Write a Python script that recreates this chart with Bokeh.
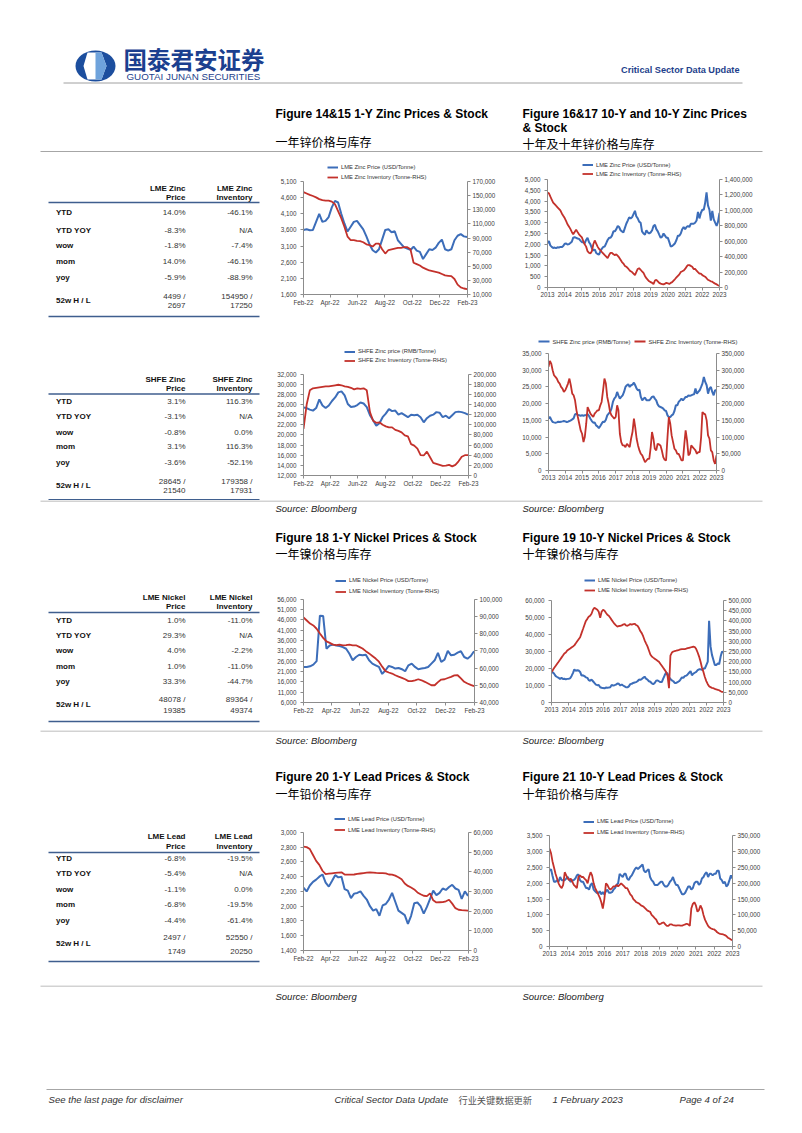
import pandas as pd
from bokeh.plotting import figure
from bokeh.models import (Range1d, LinearAxis, FixedTicker, NumeralTickFormatter,
                          DatetimeTickFormatter, Legend, LegendItem)
from bokeh.layouts import column, row
from bokeh.embed import file_html
from bokeh.resources import INLINE
from bokeh.core.properties import value

# ---------------------------------------------------------------- data
week_dates = pd.date_range("2022-02-01", periods=53, freq="7D")
month_dates = pd.date_range("2013-01-01", periods=121, freq="MS")

one_y_ticks = ["2022-02-01", "2022-04-01", "2022-06-01", "2022-08-01",
               "2022-10-01", "2022-12-01", "2023-02-01"]
ten_y_ticks = ["2013-01-01", "2014-01-01", "2015-01-01", "2016-01-01", "2017-01-01",
               "2018-01-01", "2019-01-01", "2020-01-01", "2021-01-01", "2022-01-01",
               "2023-01-01"]

# Figure 14&15 : LME zinc 1-Y
lme_zinc_1y_price = [3600, 3620, 3590, 3600, 3850, 4100, 3850, 3880, 4000, 4300,
                     4500, 4450, 4100, 3800, 3550, 3700, 3850, 3880, 3750, 3620,
                     3400, 3150, 2970, 2900, 3000, 3300, 3600, 3620, 3530, 3560,
                     3280, 3170, 3060, 3020, 2980, 3080, 2960, 2920, 2700, 2850,
                     3000, 2980, 3050, 3200, 3300, 3000, 2960, 3000, 3280, 3420,
                     3470, 3400, 3380]
lme_zinc_1y_inv = [155000, 153000, 151000, 149500, 147500, 145000, 143500, 143000, 143000, 141500,
                   138000, 128000, 118000, 106000, 92000, 87000, 87000, 86000, 85500, 84000,
                   81000, 80000, 78000, 82000, 82000, 74000, 68000, 73000, 74000, 75000,
                   76000, 76000, 77000, 77000, 74000, 55000, 53000, 51000, 48000, 46000,
                   44000, 43000, 42000, 41000, 39000, 37000, 36500, 36000, 32000, 24000,
                   20000, 18500, 17500]
# SHFE zinc 1-Y
shfe_zinc_1y_price = [25400, 25300, 25000, 24800, 25300, 27000, 25800, 25300, 25800, 26700,
                      27400, 28400, 28600, 27800, 26100, 25500, 25600, 25900, 26400, 26200,
                      25500, 23900, 22900, 21800, 22300, 23500, 24200, 25100, 24700, 24800,
                      24000, 24300, 23900, 23500, 24000, 23900, 24000, 23500, 22500, 23300,
                      23800, 24000, 24500, 24400, 23500, 23800, 23300, 23900, 24500, 24600,
                      24500, 24300, 24000]
shfe_zinc_1y_inv = [92000, 140000, 168000, 172000, 173000, 174000, 175000, 176000, 176000, 177000,
                    178000, 179000, 178000, 176000, 175000, 173000, 170000, 172000, 171000, 172000,
                    168000, 125000, 108000, 104000, 105000, 100000, 97000, 95000, 95000, 90000,
                    88000, 85000, 79000, 77000, 62000, 59000, 53000, 40000, 39500, 47000,
                    36000, 25000, 23000, 21000, 19000, 19500, 21000, 18000, 21000, 28000,
                    37000, 40000, 40000]
# LME nickel 1-Y
lme_nickel_1y_price = [23200, 23200, 23500, 24300, 26000, 48000, 47800, 32000, 33600, 34000,
                       33500, 33300, 32800, 32000, 29600, 26400, 28000, 29100, 28800, 29100,
                       26400, 24800, 24000, 23200, 19800, 21600, 23700, 23200, 22400, 22700,
                       22100, 21100, 24000, 24800, 23200, 22100, 22400, 22700, 23200, 24800,
                       26400, 30000, 25600, 26700, 31000, 28800, 29100, 30100, 30800, 28000,
                       27200, 28500, 30800]
lme_nickel_1y_inv = [89400, 87600, 85800, 84700, 82800, 80000, 77500, 75500, 74600, 73600,
                     73300, 73600, 73200, 73300, 73600, 73200, 73200, 72300, 71300, 69800,
                     68500, 67000, 65500, 63700, 60800, 58200, 57400, 56800, 55800, 55000,
                     54300, 53500, 52400, 52400, 52900, 53500, 52900, 52000, 51000, 50000,
                     50000, 51800, 53300, 53500, 54200, 54900, 55700, 55800, 54000, 52000,
                     51000, 50200, 49500]
# LME lead 1-Y
lme_lead_1y_price = [2250, 2200, 2280, 2330, 2360, 2400, 2430, 2320, 2265, 2340,
                     2420, 2390, 2400, 2230, 2210, 2110, 2170, 2180, 2200, 2140,
                     2090, 2000, 1940, 1960, 1870, 2010, 2030, 2090, 2180, 2060,
                     1940, 1910, 1880, 1760, 1870, 2040, 2050, 2000, 1900, 1990,
                     2100, 2210, 2150, 2180, 2240, 2220, 2260, 2290, 2240, 2220,
                     2100, 2200, 2140]
lme_lead_1y_inv = [52800, 52500, 51500, 48500, 45500, 43500, 40500, 38800, 39000, 39200,
                   39400, 39600, 39700, 38600, 38500, 38500, 38600, 38900, 39100, 39300,
                   39500, 39700, 39600, 39400, 39300, 39300, 39200, 38600, 38500, 38000,
                   37200, 36200, 34000, 32800, 32000, 31000, 29500, 28600, 27800, 27600,
                   29000, 25500, 24400, 24500, 24600, 25000, 25800, 23800, 21500, 20700,
                   20500, 20400, 20300]

# 10-Y monthly series (Jan-2013 .. Jan-2023)
lme_zinc_10y_price = [
    2050, 2150, 1950, 1880, 1830, 1850, 1820, 1860, 1850, 1880, 1870, 1920,
    2030, 2040, 1990, 2010, 2060, 2120, 2310, 2330, 2300, 2270, 2250, 2170,
    2100, 2100, 2040, 2200, 2300, 2100, 2000, 1820, 1720, 1760, 1600, 1550,
    1520, 1700, 1800, 1880, 1900, 2050, 2200, 2300, 2300, 2400, 2600, 2600,
    2700, 2850, 2800, 2650, 2600, 2550, 2750, 2950, 3100, 3250, 3200, 3250,
    3400, 3550, 3300, 3200, 3050, 3000, 2600, 2500, 2450, 2650, 2550, 2500,
    2550, 2650, 2850, 2900, 2700, 2600, 2450, 2300, 2350, 2500, 2400, 2300,
    2300, 2100, 1900, 1920, 1980, 2050, 2200, 2400, 2400, 2500, 2700, 2800,
    2700, 2800, 2850, 2800, 2950, 2950, 2950, 3000, 3100, 3500, 3200, 3450,
    3600, 3600, 3900, 4400, 3800, 3600, 3100, 3550, 3150, 3000, 2850, 3050,
    3450]
lme_zinc_10y_inv = [
    1230000, 1220000, 1180000, 1140000, 1100000, 1080000, 1060000, 1040000, 1020000, 1000000, 960000, 930000,
    900000, 860000, 820000, 790000, 760000, 720000, 690000, 720000, 750000, 720000, 690000, 670000,
    650000, 600000, 560000, 530000, 470000, 450000, 440000, 470000, 560000, 610000, 570000, 530000,
    500000, 480000, 460000, 440000, 420000, 400000, 380000, 420000, 450000, 450000, 430000, 420000,
    430000, 410000, 390000, 360000, 330000, 310000, 280000, 270000, 250000, 230000, 210000, 200000,
    180000, 160000, 200000, 240000, 250000, 230000, 210000, 190000, 150000, 120000, 100000, 80000,
    70000, 60000, 45000, 90000, 100000, 80000, 60000, 50000, 45000, 40000, 50000, 60000,
    55000, 45000, 60000, 70000, 90000, 110000, 130000, 150000, 170000, 200000, 210000, 220000,
    240000, 270000, 290000, 290000, 280000, 270000, 240000, 240000, 220000, 200000, 180000, 180000,
    160000, 150000, 140000, 120000, 100000, 90000, 80000, 75000, 60000, 50000, 40000, 30000,
    20000]
shfe_zinc_10y_price = [
    15500, 16000, 15200, 14500, 14400, 14300, 14400, 14600, 14500, 14600, 14700, 14800,
    14700, 14500, 14600, 14800, 15000, 15300, 15600, 16800, 17000, 16600, 16500, 16400,
    16500, 16400, 16500, 16600, 16900, 16300, 15500, 14800, 14300, 14400, 13500, 13200,
    12700, 13300, 14000, 14600, 14500, 15200, 16500, 17000, 17500, 18500, 20500, 21500,
    22000, 23500, 22500, 21500, 22000, 22500, 23500, 25000, 25500, 25800, 25000, 25500,
    25700, 26300, 25500, 24500, 24000, 24200, 22000, 21000, 21500, 21800, 21000, 21000,
    21000, 21500, 22000, 22200, 21500, 21000, 19800, 19200, 19000, 18800, 18500, 18000,
    17800, 16500, 16000, 16000, 16500, 16800, 17800, 19500, 19500, 20500, 21000, 21500,
    21000, 21500, 22000, 22000, 22500, 22300, 22500, 22700, 22800, 24500, 23000, 23500,
    24000, 25000, 26000, 28000, 26500, 25500, 23000, 24500, 25000, 23500, 22500, 24000,
    24000]
shfe_zinc_10y_inv = [
    310000, 328000, 320000, 300000, 285000, 280000, 275000, 265000, 260000, 250000, 245000, 235000,
    240000, 250000, 260000, 275000, 255000, 230000, 225000, 210000, 180000, 160000, 140000, 120000,
    110000, 85000, 100000, 140000, 190000, 180000, 170000, 165000, 160000, 170000, 175000, 180000,
    180000, 195000, 205000, 240000, 275000, 260000, 220000, 200000, 175000, 165000, 160000, 155000,
    160000, 195000, 180000, 110000, 85000, 75000, 75000, 70000, 80000, 75000, 70000, 95000,
    115000, 155000, 130000, 95000, 75000, 60000, 50000, 45000, 35000, 25000, 30000, 35000,
    35000, 70000, 115000, 95000, 65000, 60000, 80000, 78000, 75000, 60000, 40000, 32000,
    30000, 100000, 160000, 140000, 105000, 85000, 65000, 60000, 50000, 50000, 40000, 30000,
    30000, 80000, 120000, 90000, 45000, 50000, 75000, 70000, 65000, 60000, 50000, 55000,
    55000, 100000, 175000, 170000, 168000, 150000, 105000, 95000, 60000, 55000, 30000, 20000,
    45000]
lme_nickel_10y_price = [
    17500, 17800, 16800, 15500, 15000, 14500, 13800, 14500, 13800, 14000, 13600, 13900,
    14000, 14200, 15500, 17300, 19500, 18600, 19000, 18800, 18000, 15800, 16000, 15500,
    14800, 14500, 13200, 12800, 13500, 12500, 11500, 10500, 10200, 10300, 9000, 8700,
    8500, 8300, 8800, 8700, 8800, 9000, 10300, 10000, 10200, 10500, 11200, 11000,
    10000, 10600, 10000, 9500, 9000, 8900, 9500, 10800, 11000, 11500, 11800, 12000,
    12500, 13500, 13300, 13800, 14500, 15200, 14000, 13500, 12500, 12200, 11200, 10800,
    11500, 12800, 13000, 12500, 12000, 12000, 14000, 16000, 17600, 17000, 15000, 13800,
    13000, 12500, 11500, 11500, 12000, 12500, 13500, 14800, 14500, 15500, 15800, 16500,
    17500, 18500, 16000, 17000, 17500, 18000, 19000, 19500, 19500, 19200, 20000, 20000,
    22000, 24000, 48000, 33000, 28000, 25000, 22000, 22000, 23000, 22500, 27000, 30000,
    29500]
lme_nickel_10y_inv = [
    150000, 160000, 170000, 180000, 190000, 200000, 210000, 220000, 230000, 240000, 245000, 255000,
    260000, 265000, 270000, 275000, 280000, 290000, 300000, 310000, 320000, 340000, 360000, 380000,
    400000, 410000, 420000, 425000, 435000, 455000, 465000, 460000, 455000, 445000, 415000, 445000,
    455000, 450000, 440000, 430000, 425000, 415000, 405000, 395000, 385000, 378000, 372000, 375000,
    376000, 378000, 382000, 385000, 378000, 376000, 380000, 385000, 382000, 384000, 386000, 380000,
    376000, 365000, 350000, 340000, 325000, 305000, 290000, 275000, 255000, 235000, 225000, 220000,
    215000, 210000, 205000, 200000, 190000, 180000, 170000, 160000, 150000, 130000, 70000, 230000,
    245000, 250000, 252000, 254000, 256000, 258000, 260000, 262000, 262000, 262000, 264000, 266000,
    268000, 270000, 272000, 274000, 272000, 262000, 245000, 225000, 200000, 170000, 150000, 125000,
    105000, 90000, 80000, 75000, 72000, 70000, 67000, 64000, 62000, 60000, 55000, 52000,
    52000]
lme_lead_10y_price = [
    2400, 2450, 2250, 2050, 2050, 2100, 2050, 2200, 2100, 2100, 2100, 2150,
    2200, 2100, 2050, 2100, 2100, 2150, 2250, 2280, 2100, 2050, 2050, 1950,
    1850, 1850, 1800, 1950, 2000, 1800, 1750, 1700, 1680, 1750, 1650, 1720,
    1650, 1750, 1800, 1700, 1700, 1720, 1800, 1850, 1950, 2000, 2300, 2250,
    2200, 2300, 2300, 2150, 2100, 2200, 2250, 2350, 2450, 2500, 2450, 2500,
    2550, 2600, 2400, 2350, 2400, 2450, 2200, 2100, 2050, 1950, 1950, 1950,
    2000, 2050, 2050, 1950, 1900, 1900, 1950, 2050, 2100, 2200, 2050, 1950,
    1950, 1850, 1750, 1650, 1650, 1700, 1800, 1900, 1900, 1800, 1850, 2000,
    2050, 2050, 1950, 2000, 2150, 2200, 2300, 2350, 2200, 2300, 2300, 2250,
    2300, 2300, 2400, 2400, 2150, 2100, 2000, 2050, 1900, 1950, 2100, 2250,
    2150]
lme_lead_10y_inv = [
    310000, 295000, 270000, 250000, 230000, 215000, 200000, 190000, 185000, 195000, 235000, 225000,
    215000, 210000, 215000, 205000, 195000, 190000, 185000, 220000, 225000, 220000, 220000, 215000,
    210000, 200000, 220000, 235000, 225000, 200000, 185000, 175000, 165000, 155000, 140000, 120000,
    150000, 200000, 195000, 185000, 180000, 185000, 190000, 190000, 195000, 190000, 195000, 200000,
    195000, 190000, 185000, 185000, 175000, 165000, 160000, 150000, 145000, 140000, 138000, 135000,
    130000, 128000, 125000, 120000, 115000, 112000, 110000, 100000, 95000, 90000, 85000, 75000,
    70000, 72000, 75000, 76000, 70000, 65000, 65000, 70000, 70000, 68000, 67000, 66000,
    67000, 67000, 66000, 66000, 68000, 70000, 72000, 70000, 65000, 120000, 135000, 140000,
    130000, 110000, 115000, 130000, 120000, 100000, 85000, 75000, 65000, 60000, 57000, 55000,
    54000, 50000, 45000, 42000, 40000, 39000, 38000, 36000, 33000, 28000, 25000, 22000,
    20000]

# axis ticks
zinc1_left = [1600, 2100, 2600, 3100, 3600, 4100, 4600, 5100]
zinc1_right = [10000, 30000, 50000, 70000, 90000, 110000, 130000, 150000, 170000]
zinc10_left = [0, 500, 1000, 1500, 2000, 2500, 3000, 3500, 4000, 4500, 5000]
zinc10_right = [0, 200000, 400000, 600000, 800000, 1000000, 1200000, 1400000]
shfe1_left = [12000, 14000, 16000, 18000, 20000, 22000, 24000, 26000, 28000, 30000, 32000]
shfe1_right = [0, 20000, 40000, 60000, 80000, 100000, 120000, 140000, 160000, 180000, 200000]
shfe10_left = [0, 5000, 10000, 15000, 20000, 25000, 30000, 35000]
shfe10_right = [0, 50000, 100000, 150000, 200000, 250000, 300000, 350000]
nickel1_left = [6000, 11000, 16000, 21000, 26000, 31000, 36000, 41000, 46000, 51000, 56000]
nickel1_right = [40000, 50000, 60000, 70000, 80000, 90000, 100000]
nickel10_left = [0, 10000, 20000, 30000, 40000, 50000, 60000]
nickel10_right = [0, 50000, 100000, 150000, 200000, 250000, 300000, 350000, 400000, 450000, 500000]
lead1_left = [1400, 1600, 1800, 2000, 2200, 2400, 2600, 2800, 3000]
lead1_right = [0, 10000, 20000, 30000, 40000, 50000, 60000]
lead10_left = [0, 500, 1000, 1500, 2000, 2500, 3000, 3500]
lead10_right = [0, 50000, 100000, 150000, 200000, 250000, 300000, 350000]

# tables
row_labels = ["YTD", "YTD YOY", "wow", "mom", "yoy"]
hl_label = "52w H / L"
t1_head = ["LME Zinc", "Price", "LME Zinc", "Inventory"]
t1_price = ["14.0%", "-8.3%", "-1.8%", "14.0%", "-5.9%"]
t1_inv = ["-46.1%", "N/A", "-7.4%", "-46.1%", "-88.9%"]
t1_hl = ["4499 /", "2697", "154950 /", "17250"]
t2_head = ["SHFE Zinc", "Price", "SHFE Zinc", "Inventory"]
t2_price = ["3.1%", "-3.1%", "-0.8%", "3.1%", "-3.6%"]
t2_inv = ["116.3%", "N/A", "0.0%", "116.3%", "-52.1%"]
t2_hl = ["28645 /", "21540", "179358 /", "17931"]
t3_head = ["LME Nickel", "Price", "LME Nickel", "Inventory"]
t3_price = ["1.0%", "29.3%", "4.0%", "1.0%", "33.3%"]
t3_inv = ["-11.0%", "N/A", "-2.2%", "-11.0%", "-44.7%"]
t3_hl = ["48078 /", "19385", "89364 /", "49374"]
t4_head = ["LME Lead", "Price", "LME Lead", "Inventory"]
t4_price = ["-6.8%", "-5.4%", "-1.1%", "-6.8%", "-4.4%"]
t4_inv = ["-19.5%", "N/A", "0.0%", "-19.5%", "-61.4%"]
t4_hl = ["2497 /", "1749", "52550 /", "20250"]

# ---------------------------------------------------------------- style
BLUE = "#3C6DB9"
RED = "#C3312B"
AX = "#8C8C8C"
LAB = "#404040"
NAVY = "#1E3F8C"
FONT = "Liberation Sans"
CJK = "Noto Sans CJK SC"
LEG_SIZE = "5.8px"
FMT_KEYS = ["microseconds", "milliseconds", "seconds", "minsec", "minutes",
            "hourmin", "hours", "days", "months", "years"]


def ms(d):
    return pd.Timestamp(d).value // 10**6


def no_align(p):
    try:
        p.frame_align = False
    except Exception:
        pass


def chart(geo, dates, price, inv, xr, xticks, xfmt, lticks, rticks, labels, leg=None):
    # geo: figure x0, y0, width, height, frame left, frame right, axis top, axis bottom
    x0, y0, w, h, fl, fr, at, ab = geo
    if leg is not None:
        lx, row1, rh = leg
        leg_top = row1 - rh / 2.0
        frame_top = min(at, leg_top - 2)
    else:
        frame_top = at
    ext = (at - frame_top) / float(ab - at)
    lspan = lticks[-1] - lticks[0]
    rspan = rticks[-1] - rticks[0]
    p = figure(width=w, height=h, x_axis_type="datetime", title=None,
               x_range=Range1d(pd.Timestamp(xr[0]), pd.Timestamp(xr[1])),
               y_range=Range1d(lticks[0], lticks[-1] + ext * lspan),
               min_border_left=fl - x0, min_border_right=x0 + w - fr,
               min_border_top=int(round(frame_top - y0)), min_border_bottom=y0 + h - ab,
               output_backend="svg", toolbar_location=None)
    no_align(p)
    p.extra_y_ranges = {"inv": Range1d(rticks[0], rticks[-1] + ext * rspan)}
    rax = LinearAxis(y_range_name="inv", bounds=(rticks[0], rticks[-1]))
    p.add_layout(rax, "right")
    p.xgrid.visible = False
    p.ygrid.visible = False
    p.outline_line_color = None
    lax = p.left[0]
    lax.bounds = (lticks[0], lticks[-1])
    bax = p.below[0]
    bax.ticker = FixedTicker(ticks=[ms(t) for t in xticks])
    bax.formatter = DatetimeTickFormatter(**{k: xfmt for k in FMT_KEYS})
    lax.ticker = FixedTicker(ticks=lticks)
    rax.ticker = FixedTicker(ticks=rticks)
    lax.formatter = NumeralTickFormatter(format="0,0")
    rax.formatter = NumeralTickFormatter(format="0,0")
    for ax in (lax, rax, bax):
        ax.axis_line_color = AX
        ax.major_tick_line_color = AX
        ax.minor_tick_line_color = None
        ax.major_tick_in = 0
        ax.major_tick_out = 3
        ax.major_label_text_font = FONT
        ax.major_label_text_font_size = "6.3px"
        ax.major_label_text_color = LAB
    lax.major_label_standoff = 4
    rax.major_label_standoff = 2
    bax.major_label_standoff = 1
    r1 = p.line(x=dates, y=price, line_color=BLUE, line_width=2)
    r2 = p.line(x=dates, y=inv, line_color=RED, line_width=1.8, y_range_name="inv")
    if leg is not None:
        leg_bottom = leg_top + 2 * rh
        lg = Legend(items=[LegendItem(label=labels[0], renderers=[r1]),
                           LegendItem(label=labels[1], renderers=[r2])],
                    orientation="vertical", location=(lx - fl, ab - leg_bottom),
                    background_fill_alpha=0, border_line_alpha=0, padding=0, margin=0,
                    spacing=0, glyph_width=11, glyph_height=rh,
                    label_height=rh, label_width=10, label_standoff=3,
                    label_text_font=FONT, label_text_font_size=LEG_SIZE,
                    label_text_color="#333333")
        p.add_layout(lg)
    return p


def panel(x0, x1, y0, y1):
    p = figure(width=x1 - x0, height=y1 - y0, x_range=Range1d(x0, x1),
               y_range=Range1d(y1, y0), x_axis_location=None, y_axis_location=None,
               title=None, output_backend="svg", toolbar_location=None, min_border=0)
    no_align(p)
    p.xgrid.visible = False
    p.ygrid.visible = False
    p.outline_line_color = None
    return p


def txt(p, x, y, s, size, style="normal", color="#000000", align="left", font=FONT):
    p.text(x=[x], y=[y], text=[s], text_font=value(font), text_font_size=size,
           text_font_style=style, text_color=color, text_align=align,
           text_baseline="middle")


def hline(p, x0, x1, y, color="#A6A6A6", width=1.0):
    p.segment(x0=[x0], y0=[y], x1=[x1], y1=[y], line_color=color, line_width=width)


def table(y0, y1, head, price, inv, hl, ys):
    hy1, hy2, ly, rows_y, hly, hly1, hly2, by = ys
    p = panel(0, 270, y0, y1)
    txt(p, 185, hy1, head[0], "8px", "bold", "#111111", "right")
    txt(p, 185, hy2, head[1], "8px", "bold", "#111111", "right")
    txt(p, 252, hy1, head[2], "8px", "bold", "#111111", "right")
    txt(p, 252, hy2, head[3], "8px", "bold", "#111111", "right")
    hline(p, 48, 259, ly, "#3F5E8E", 1.6)
    for lab, pv, iv, yy in zip(row_labels, price, inv, rows_y):
        txt(p, 55.5, yy, lab, "8px", "bold", "#111111")
        txt(p, 185, yy, pv, "8px", "normal", "#333333", "right")
        txt(p, 252, yy, iv, "8px", "normal", "#333333", "right")
    txt(p, 55.5, hly, hl_label, "8px", "bold", "#111111")
    txt(p, 185, hly1, hl[0], "8px", "normal", "#333333", "right")
    txt(p, 185, hly2, hl[1], "8px", "normal", "#333333", "right")
    txt(p, 252, hly1, hl[2], "8px", "normal", "#333333", "right")
    txt(p, 252, hly2, hl[3], "8px", "normal", "#333333", "right")
    hline(p, 48, 259, by, "#3F5E8E", 1.6)
    return p


ONE = ("2022-02-01", "2023-02-01")
TEN = ("2013-01-01", "2023-01-01")
zl = ["LME Zinc Price (USD/Tonne)", "LME Zinc Inventory (Tonne-RHS)"]
sl = ["SHFE Zinc price (RMB/Tonne)", "SHFE Zinc Inventory (Tonne-RHS)"]
nl = ["LME Nickel Price (USD/Tonne)", "LME Nickel Inventory (Tonne-RHS)"]
ll = ["LME Lead Price (USD/Tonne)", "LME Lead Inventory (Tonne-RHS)"]

# ---------------------------------------------------------------- header
hdr = panel(0, 794, 0, 152)
hdr.ellipse(x=[95], y=[65.5], width=40, height=31, fill_color="#1C4E9E", line_color=None)
hdr.patch(x=[87, 101, 106, 101, 87, 83], y=[52, 52, 65.5, 79, 79, 65.5],
          fill_color="#FFFFFF", line_color=None)
hdr.patch(x=[95, 101, 106, 101, 95], y=[52, 52, 65.5, 79, 79],
          fill_color="#6FA3DC", line_color=None)
txt(hdr, 123, 58.5, "国泰君安证券", "23.5px", "bold", "#1B3F8F", font=CJK)
txt(hdr, 126, 76, "GUOTAI JUNAN SECURITIES", "9.8px", "normal", NAVY)
txt(hdr, 739, 69, "Critical Sector Data Update", "9.2px", "bold", NAVY, "right")
hline(hdr, 63, 742, 82.5, "#A0A0A0", 1)
txt(hdr, 275, 113, "Figure 14&15 1-Y Zinc Prices & Stock", "12px", "bold")
txt(hdr, 275, 141, "一年锌价格与库存", "12px", "normal", font=CJK)
txt(hdr, 522, 113, "Figure 16&17 10-Y  and 10-Y Zinc Prices", "12px", "bold")
txt(hdr, 522, 127.5, "& Stock", "12px", "bold")
txt(hdr, 522, 143, "十年及十年锌价格与库存", "12px", "normal", font=CJK)
hline(hdr, 40, 762, 151, "#A6A6A6", 1)

# ---------------------------------------------------------------- row 1
t1 = table(152, 332, t1_head, t1_price, t1_inv, t1_hl,
           (187.5, 196.5, 202, [212, 229.5, 245, 261, 277], 300, 295.5, 305, 316))
c1 = chart((270, 152, 240, 180, 303, 467, 181, 294), week_dates,
           lme_zinc_1y_price, lme_zinc_1y_inv, ONE, one_y_ticks, "%b-%y",
           zinc1_left, zinc1_right, zl, (327, 167, 10))
c2 = chart((510, 152, 284, 180, 547, 719, 179, 287), month_dates,
           lme_zinc_10y_price, lme_zinc_10y_inv, TEN, ten_y_ticks, "%Y",
           zinc10_left, zinc10_right, zl, (582, 164.5, 9))

# ---------------------------------------------------------------- row 2
t2 = table(332, 500, t2_head, t2_price, t2_inv, t2_hl,
           (378.5, 388, 393.5, [401, 416, 432, 446, 462], 485, 480.5, 490, 499.3))
c3 = chart((270, 332, 240, 168, 303, 468, 374, 475), week_dates,
           shfe_zinc_1y_price, shfe_zinc_1y_inv, ONE, one_y_ticks, "%b-%y",
           shfe1_left, shfe1_right, sl, (344, 351, 9))
# one-row legend of figure 16&17 (SHFE) sits in its own strip above the chart
lg4 = panel(510, 794, 332, 346)
lg4.segment(x0=[538], y0=[341], x1=[549], y1=[341], line_color=BLUE, line_width=2)
txt(lg4, 552, 341, sl[0], LEG_SIZE, "normal", "#333333")
lg4.segment(x0=[634], y0=[341], x1=[645], y1=[341], line_color=RED, line_width=1.8)
txt(lg4, 648, 341, sl[1], LEG_SIZE, "normal", "#333333")
c4 = chart((510, 346, 284, 154, 548, 716, 353, 470), month_dates,
           shfe_zinc_10y_price, shfe_zinc_10y_inv, TEN, ten_y_ticks, "%Y",
           shfe10_left, shfe10_right, sl, None)

# ---------------------------------------------------------------- mid 1
m1 = panel(0, 794, 500, 568)
hline(m1, 40, 762, 500.5, "#A6A6A6", 1)
txt(m1, 275, 508, "Source: Bloomberg", "9.5px", "italic", "#222222")
txt(m1, 522, 508, "Source: Bloomberg", "9.5px", "italic", "#222222")
txt(m1, 275, 537, "Figure 18 1-Y Nickel Prices & Stock", "12px", "bold")
txt(m1, 275, 553, "一年镍价格与库存", "12px", "normal", font=CJK)
txt(m1, 522, 537, "Figure 19 10-Y Nickel Prices & Stock", "12px", "bold")
txt(m1, 522, 553, "十年镍价格与库存", "12px", "normal", font=CJK)

# ---------------------------------------------------------------- row 3
t3 = table(568, 730, t3_head, t3_price, t3_inv, t3_hl,
           (597, 606, 612, [619.5, 635, 650, 665.5, 681], 704, 698.5, 710, 721))
c5 = chart((270, 568, 240, 162, 303, 474, 599, 702), week_dates,
           lme_nickel_1y_price, lme_nickel_1y_inv, ONE, one_y_ticks, "%b-%y",
           nickel1_left, nickel1_right, nl, (335, 580, 11))
c6 = chart((510, 568, 284, 162, 551, 723, 600, 702), month_dates,
           lme_nickel_10y_price, lme_nickel_10y_inv, TEN, ten_y_ticks, "%Y",
           nickel10_left, nickel10_right, nl, (584, 580, 10))

# ---------------------------------------------------------------- mid 2
m2 = panel(0, 794, 730, 812)
hline(m2, 40, 762, 730.5, "#A6A6A6", 1)
txt(m2, 275, 740, "Source: Bloomberg", "9.5px", "italic", "#222222")
txt(m2, 522, 740, "Source: Bloomberg", "9.5px", "italic", "#222222")
txt(m2, 275, 776, "Figure 20 1-Y Lead Prices & Stock", "12px", "bold")
txt(m2, 275, 793, "一年铅价格与库存", "12px", "normal", font=CJK)
txt(m2, 522, 776, "Figure 21 10-Y Lead Prices & Stock", "12px", "bold")
txt(m2, 522, 793, "十年铅价格与库存", "12px", "normal", font=CJK)

# ---------------------------------------------------------------- row 4
t4 = table(812, 985, t4_head, t4_price, t4_inv, t4_hl,
           (836, 846, 852, [858, 873, 889, 904, 920], 943, 937, 951, 961))
c7 = chart((270, 812, 240, 173, 303, 468, 831, 950), week_dates,
           lme_lead_1y_price, lme_lead_1y_inv, ONE, one_y_ticks, "%b-%y",
           lead1_left, lead1_right, ll, (334, 818.5, 11))
c8 = chart((510, 812, 284, 173, 549, 732, 835, 946), month_dates,
           lme_lead_10y_price, lme_lead_10y_inv, TEN, ten_y_ticks, "%Y",
           lead10_left, lead10_right, ll, (583, 821, 11))

# ---------------------------------------------------------------- footer
ft = panel(0, 794, 985, 1125)
hline(ft, 40, 762, 985.5, "#A6A6A6", 1)
txt(ft, 275, 996, "Source: Bloomberg", "9.5px", "italic", "#222222")
txt(ft, 522, 996, "Source: Bloomberg", "9.5px", "italic", "#222222")
hline(ft, 46, 764, 1089, "#A6A6A6", 1)
txt(ft, 48, 1099, "See  the last page for disclaimer", "9.6px", "italic", "#333333")
txt(ft, 334, 1099, "Critical Sector Data Update", "9.4px", "italic", "#333333")
txt(ft, 458, 1099, "行业关键数据更新", "9.2px", "normal", "#555555", font=CJK)
txt(ft, 552, 1099, "1 February 2023", "9.6px", "italic", "#333333")
txt(ft, 679, 1099, "Page 4 of 24", "9.6px", "italic", "#333333")

layout = column(hdr, row(t1, c1, c2), row(t2, c3, column(lg4, c4, spacing=0)), m1,
                row(t3, c5, c6), m2, row(t4, c7, c8), ft, spacing=0)

open("out.html", "w").write(file_html(layout, INLINE))
